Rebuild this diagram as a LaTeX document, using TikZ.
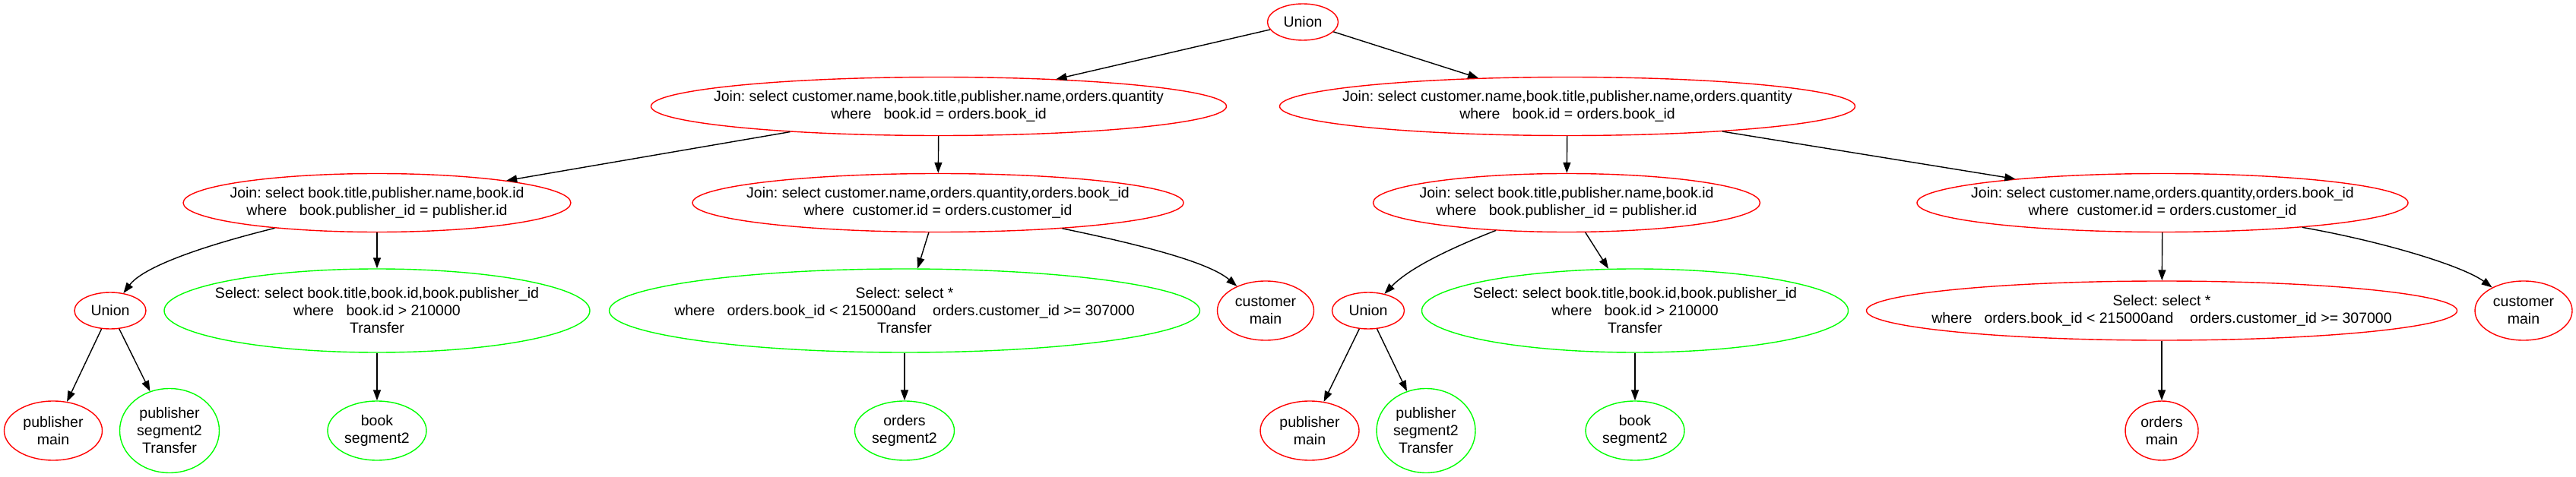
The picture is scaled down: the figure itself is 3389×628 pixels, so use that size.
\documentclass[tikz,border=0pt]{standalone}
\usepackage{fontspec}
\setmainfont{Liberation Sans}
\usetikzlibrary{shapes.geometric,arrows.meta}
\definecolor{gvgreen}{RGB}{0,255,0}
\frenchspacing
\tikzstyle{every node}=[font=\fontsize{19.5}{23}\selectfont]
\tikzstyle{redop}=[ellipse,draw=red,line width=1.4pt,inner sep=0pt]
\tikzstyle{greenop}=[ellipse,draw=gvgreen,line width=1.4pt,inner sep=0pt]
\tikzstyle{txt}=[align=center,inner sep=0pt]
\tikzstyle{arr}=[draw=black,line width=1.4pt,-{Triangle[length=14pt,width=10pt]}]
\tikzset{wh/.style 2 args={minimum width=#1pt,minimum height=#2pt}}

\begin{document}
\begin{tikzpicture}[x=1pt,y=-1pt]
\useasboundingbox (0,0) rectangle (3389,628);
% top union and the two big joins
\node[redop,wh={93}{48},label={[txt]center:Union}] (u0) at (1714,29) {};
\node[redop,wh={757}{77},label={[txt]center:{Join: select customer.name,book.title,publisher.name,orders.quantity\\where\ \ \ book.id = orders.book\_id}}] (j1l) at (1235,140) {};
\node[redop,wh={757}{77},label={[txt]center:{Join: select customer.name,book.title,publisher.name,orders.quantity\\where\ \ \ book.id = orders.book\_id}}] (j1r) at (2062,140) {};
% second level joins
\node[redop,wh={510}{77},label={[txt]center:{Join: select book.title,publisher.name,book.id\\where\ \ \ book.publisher\_id = publisher.id}}] (j2ll) at (496,267) {};
\node[redop,wh={646}{77},label={[txt]center:{Join: select customer.name,orders.quantity,orders.book\_id\\where\ \ customer.id = orders.customer\_id}}] (j2lr) at (1234,267) {};
\node[redop,wh={509}{77},label={[txt]center:{Join: select book.title,publisher.name,book.id\\where\ \ \ book.publisher\_id = publisher.id}}] (j2rl) at (2061,267) {};
\node[redop,wh={646}{77},label={[txt]center:{Join: select customer.name,orders.quantity,orders.book\_id\\where\ \ customer.id = orders.customer\_id}}] (j2rr) at (2845,267) {};
% third level
\node[redop,wh={94}{48},label={[txt]center:Union}] (u3l) at (145,409) {};
\node[greenop,wh={560}{110},label={[txt]center:{Select: select book.title,book.id,book.publisher\_id\\where\ \ \ book.id > 210000\\Transfer}}] (s3l) at (496,409) {};
\node[greenop,wh={777}{110},label={[txt]center:{Select: select *\\where\ \ \ orders.book\_id < 215000and\ \ \ \ orders.customer\_id >= 307000\\Transfer}}] (s3lr) at (1190,409) {};
\node[redop,wh={127}{78},label={[txt]center:{customer\\main}}] (c3l) at (1665,409) {};
\node[redop,wh={95}{48},label={[txt]center:Union}] (u3r) at (1800,409) {};
\node[greenop,wh={561}{110},label={[txt]center:{Select: select book.title,book.id,book.publisher\_id\\where\ \ \ book.id > 210000\\Transfer}}] (s3rl) at (2151,409) {};
\node[redop,wh={777}{78},label={[txt]center:{Select: select *\\where\ \ \ orders.book\_id < 215000and\ \ \ \ orders.customer\_id >= 307000}}] (s3rr) at (2844,409) {};
\node[redop,wh={128}{78},label={[txt]center:{customer\\main}}] (c3r) at (3320,409) {};
% leaves
\node[redop,wh={129}{78},label={[txt]center:{publisher\\main}}] (p4l) at (70,567) {};
\node[greenop,wh={131}{111},label={[txt]center:{publisher\\segment2\\Transfer}}] (ps4l) at (223,567) {};
\node[greenop,wh={130}{78},label={[txt]center:{book\\segment2}}] (b4l) at (496,567) {};
\node[greenop,wh={131}{78},label={[txt]center:{orders\\segment2}}] (o4l) at (1190,567) {};
\node[redop,wh={130}{78},label={[txt]center:{publisher\\main}}] (p4r) at (1723,567) {};
\node[greenop,wh={130}{111},label={[txt]center:{publisher\\segment2\\Transfer}}] (ps4r) at (1876,567) {};
\node[greenop,wh={130}{78},label={[txt]center:{book\\segment2}}] (b4r) at (2151,567) {};
\node[redop,wh={96}{78},label={[txt]center:{orders\\main}}] (o4r) at (2844,567) {};

\draw[arr] (u0) -- (j1l);
\draw[arr] (u0) -- (j1r);
\draw[arr] (j1l) -- (j2ll);
\draw[arr] (j1l) -- (j2lr);
\draw[arr] (j1r) -- (j2rl);
\draw[arr] (j1r) -- (j2rr);
\draw[arr] (j2ll) .. controls (262,325) and (188,352) .. (u3l);
\draw[arr] (j2ll) -- (s3l);
\draw[arr] (j2lr) -- (s3lr);
\draw[arr] (j2lr) .. controls (1500,322) and (1590,345) .. (c3l);
\draw[arr] (j2rl) .. controls (1900,330) and (1852,355) .. (u3r);
\draw[arr] (j2rl) -- (s3rl);
\draw[arr] (j2rr) -- (s3rr);
\draw[arr] (j2rr) .. controls (3135,318) and (3240,350) .. (c3r);
\draw[arr] (u3l) -- (p4l);
\draw[arr] (u3l) -- (ps4l);
\draw[arr] (s3l) -- (b4l);
\draw[arr] (s3lr) -- (o4l);
\draw[arr] (u3r) -- (p4r);
\draw[arr] (u3r) -- (ps4r);
\draw[arr] (s3rl) -- (b4r);
\draw[arr] (s3rr) -- (o4r);
\end{tikzpicture}
\end{document}
